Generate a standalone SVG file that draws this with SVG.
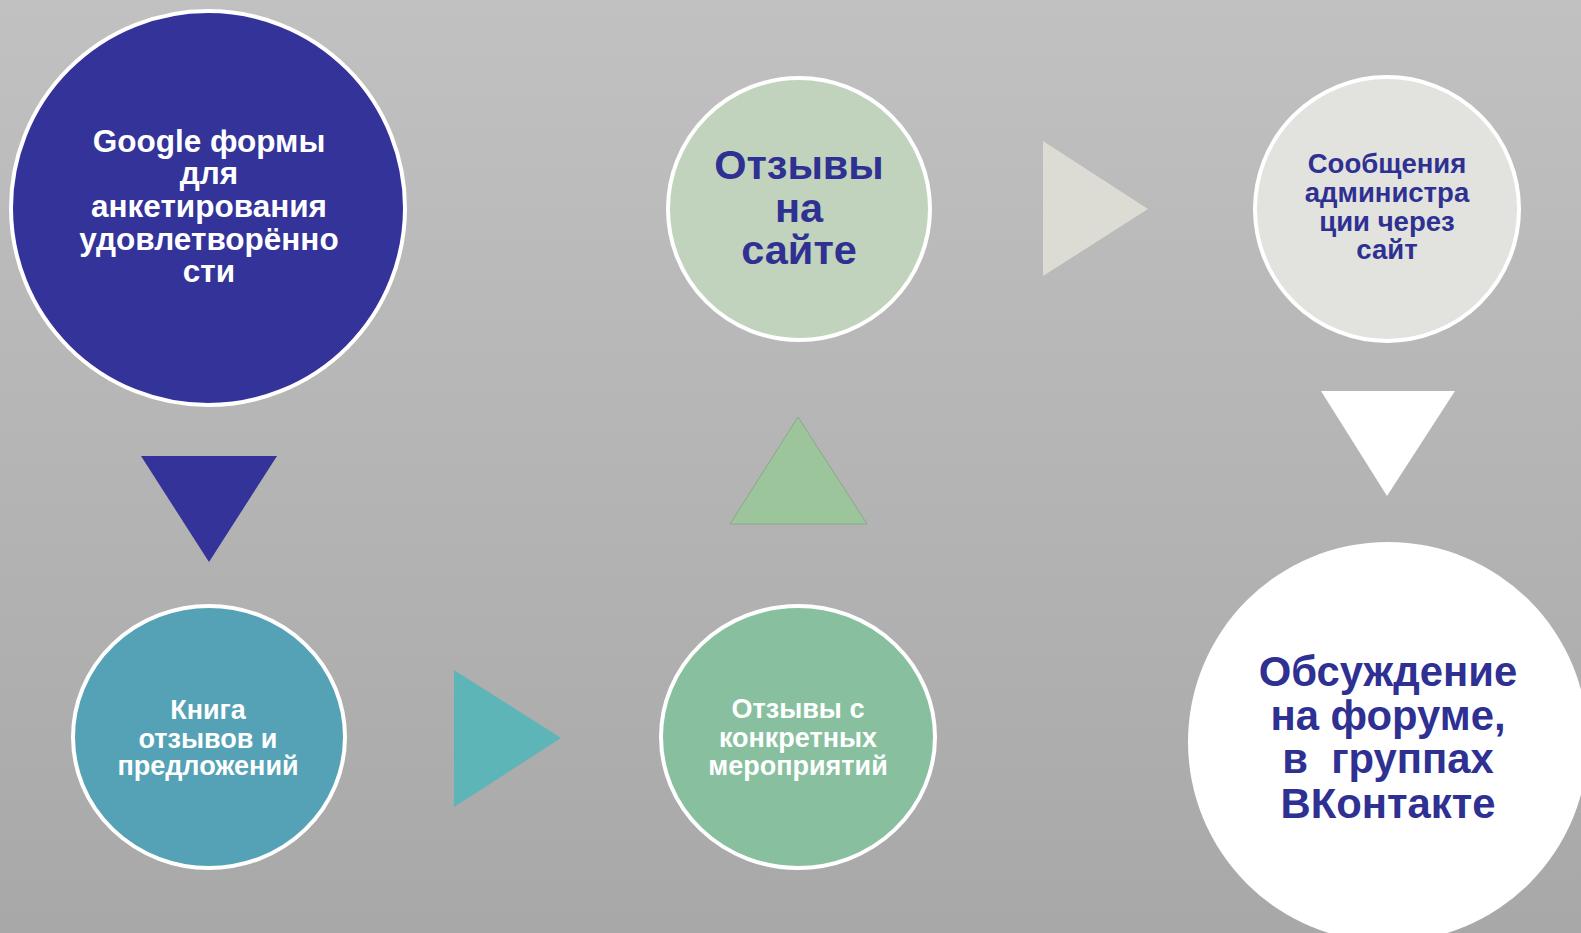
<svg xmlns="http://www.w3.org/2000/svg" width="1581" height="933" viewBox="0 0 1581 933">
<defs>
<linearGradient id="bg" x1="0" y1="0" x2="0" y2="1">
<stop offset="0" stop-color="#c1c1c1"/>
<stop offset="1" stop-color="#a8a8a8"/>
</linearGradient>
</defs>
<style>
.c{stroke:#ffffff;stroke-width:4}
.t{font-family:"Liberation Sans",Arial,sans-serif;font-weight:bold;text-anchor:middle}
.w{fill:#ffffff}
.b{fill:#2e3092}
</style>
<rect x="0" y="0" width="1581" height="933" fill="url(#bg)"/>
<g id="connectors">
<polygon points="141,456 277,456 209,562" fill="#333399"/>
<polygon points="454,670 454,807 561,738" fill="#5eb5b8"/>
<polygon points="730,524 867,524 798,417" fill="#9dc59c" stroke="#8aa88a" stroke-width="1"/>
<polygon points="1043,141 1043,276 1148,209" fill="#dcdcd5"/>
<polygon points="1321,391 1455,391 1387,496" fill="#ffffff"/>
</g>
<g id="node-google">
<circle class="c" cx="208" cy="208" r="197" fill="#333399"/>
<text class="t w" font-size="31.5"><tspan x="209" y="152">Google формы</tspan><tspan x="209" y="184">для</tspan><tspan x="209" y="217">анкетирования</tspan><tspan x="209" y="250">удовлетворённо</tspan><tspan x="209" y="282">сти</tspan></text>
</g>
<g id="node-site">
<circle class="c" cx="799" cy="209" r="131" fill="#c1d3bd"/>
<text class="t b" font-size="41.5"><tspan x="799" y="179">Отзывы</tspan><tspan x="799" y="222">на</tspan><tspan x="799" y="264">сайте</tspan></text>
</g>
<g id="node-admin">
<circle class="c" cx="1387" cy="209" r="132" fill="#e2e2de"/>
<text class="t b" font-size="27.5"><tspan x="1387" y="173">Сообщения</tspan><tspan x="1387" y="202">администра</tspan><tspan x="1387" y="231">ции через</tspan><tspan x="1387" y="259">сайт</tspan></text>
</g>
<g id="node-book">
<ellipse class="c" cx="209" cy="737" rx="136" ry="131" fill="#55a2b6"/>
<text class="t w" font-size="27"><tspan x="208" y="719">Книга</tspan><tspan x="208" y="748">отзывов и</tspan><tspan x="208" y="775">предложений</tspan></text>
</g>
<g id="node-events">
<ellipse class="c" cx="798" cy="737" rx="137" ry="131" fill="#88bf9f"/>
<text class="t w" font-size="27"><tspan x="798" y="718">Отзывы с</tspan><tspan x="798" y="747">конкретных</tspan><tspan x="798" y="775">мероприятий</tspan></text>
</g>
<g id="node-forum">
<circle cx="1388" cy="742" r="200" fill="#ffffff"/>
<text class="t b" font-size="41.8" xml:space="preserve" style="white-space:pre"><tspan x="1388" y="686">Обсуждение</tspan><tspan x="1388" y="730">на форуме,</tspan><tspan x="1388" y="773">в  группах</tspan><tspan x="1388" y="818">ВКонтакте</tspan></text>
</g>
</svg>
